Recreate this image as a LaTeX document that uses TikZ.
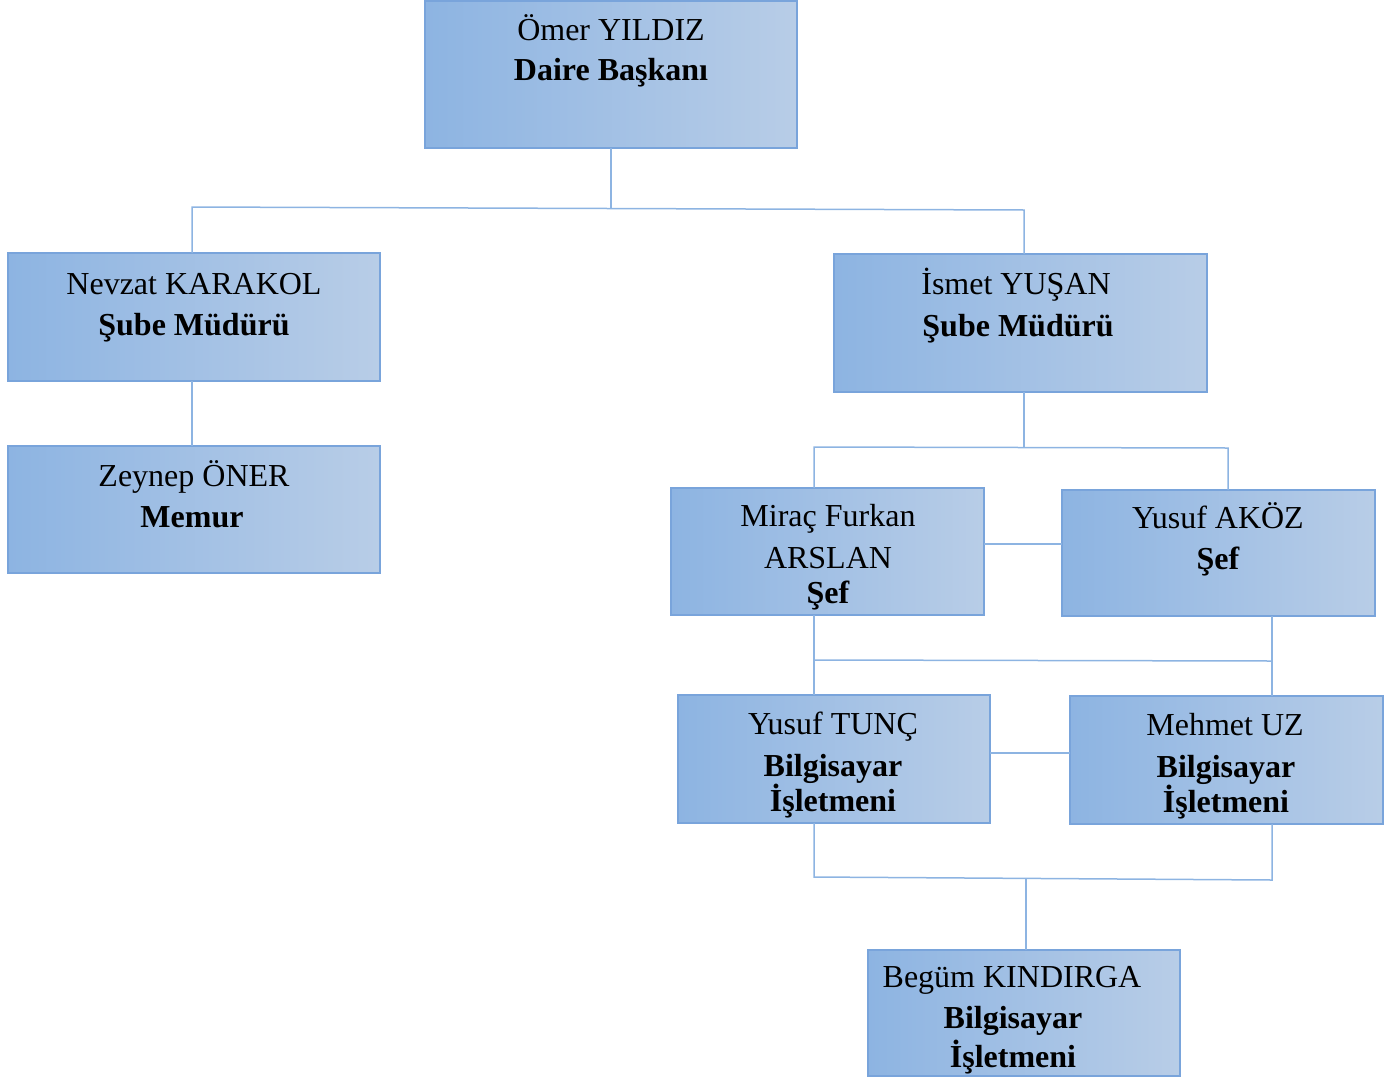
\documentclass[tikz,border=0pt]{standalone}
\usepackage{fontspec}
\setmainfont{Liberation Serif}
\usetikzlibrary{calc}
\definecolor{boxL}{RGB}{141,180,226}
\definecolor{boxR}{RGB}{184,205,231}
\definecolor{boxB}{RGB}{121,164,219}
\definecolor{lineC}{RGB}{141,180,226}
\tikzset{
  box/.style={rectangle, anchor=north west, inner sep=0pt, outer sep=0pt, draw=boxB, line width=1.5pt, left color=boxL, right color=boxR},
  txt/.style={anchor=base, inner sep=0pt, font=\fontsize{32}{38}\selectfont},
  conn/.style={draw=lineC, line width=1.5pt}
}
\begin{document}
\begin{tikzpicture}[x=1pt,y=-1pt]
\useasboundingbox (0,0) rectangle (1399,1079);
% boxes
\node[box, minimum width=372pt, minimum height=147pt] (omer) at (425,0.75) {};
\node[box, minimum width=372pt, minimum height=128pt] (nevzat) at (8,253) {};
\node[box, minimum width=372pt, minimum height=127pt] (zeynep) at (8,446) {};
\node[box, minimum width=373pt, minimum height=138pt] (ismet) at (834,254) {};
\node[box, minimum width=313pt, minimum height=127pt] (mirac) at (671,488) {};
\node[box, minimum width=313pt, minimum height=126pt] (akoz) at (1062,490) {};
\node[box, minimum width=312pt, minimum height=128pt] (tunc) at (678,695) {};
\node[box, minimum width=313pt, minimum height=128pt] (mehmet) at (1070,696) {};
\node[box, minimum width=312pt, minimum height=126pt] (begum) at (868,950) {};
% texts
\node[txt] (omer1) at (611,40) {Ömer YILDIZ};
\node[txt] (omer2) at (611,80) {\bfseries Daire Başkanı};
\node[txt] (nevzat1) at (194,294) {Nevzat KARAKOL};
\node[txt] (nevzat2) at (194,335) {\bfseries Şube Müdürü};
\node[txt] (zeynep1) at (194,486) {Zeynep ÖNER};
\node[txt] (zeynep2) at (192,527) {\bfseries Memur};
\node[txt] (ismet1) at (1016,294) {İsmet YUŞAN};
\node[txt] (ismet2) at (1018,336) {\bfseries Şube Müdürü};
\node[txt] (mirac1) at (828,526) {Miraç Furkan};
\node[txt] (mirac2) at (828,568) {ARSLAN};
\node[txt] (mirac3) at (828,603) {\bfseries Şef};
\node[txt] (akoz1) at (1218,528) {Yusuf AKÖZ};
\node[txt] (akoz2) at (1218,569) {\bfseries Şef};
\node[txt] (tunc1) at (833,734) {Yusuf TUNÇ};
\node[txt] (tunc2) at (833,776) {\bfseries Bilgisayar};
\node[txt] (tunc3) at (833,811) {\bfseries İşletmeni};
\node[txt] (mehmet1) at (1225,735) {Mehmet UZ};
\node[txt] (mehmet2) at (1226,777) {\bfseries Bilgisayar};
\node[txt] (mehmet3) at (1226,812) {\bfseries İşletmeni};
\node[txt] (begum1) at (1012,987) {Begüm KINDIRGA};
\node[txt] (begum2) at (1013,1028) {\bfseries Bilgisayar};
\node[txt] (begum3) at (1013,1067) {\bfseries İşletmeni};
% junction coordinates
\coordinate (j1) at (611,208);
\coordinate (n1) at (192,207);
\coordinate (i1) at (1024,210);
\coordinate (j2) at (1024,447);
\coordinate (m1) at (814,447);
\coordinate (a1) at (1228,448);
\coordinate (h1) at (0,544);
\coordinate (m2) at (814,660);
\coordinate (a2) at (1272,661);
\coordinate (h2) at (0,753);
\coordinate (m3) at (814,877);
\coordinate (a3) at (1272,880);
\coordinate (b3) at (1026,878);
% connectors
\draw[conn] (j1 |- omer.south) -- (j1);
\draw[conn] (n1 |- nevzat.north) -- (n1) -- (i1) -- (i1 |- ismet.north);
\draw[conn] (n1 |- nevzat.south) -- (n1 |- zeynep.north);
\draw[conn] (j2 |- ismet.south) -- (j2);
\draw[conn] (m1 |- mirac.north) -- (m1) -- (a1) -- (a1 |- akoz.north);
\draw[conn] (h1 -| mirac.east) -- (h1 -| akoz.west);
\draw[conn] (m2 |- mirac.south) -- (m2 |- tunc.north);
\draw[conn] (m2) -- (a2);
\draw[conn] (a2 |- akoz.south) -- (a2 |- mehmet.north);
\draw[conn] (h2 -| tunc.east) -- (h2 -| mehmet.west);
\draw[conn] (m3 |- tunc.south) -- (m3) -- (a3) -- (a3 |- mehmet.south);
\draw[conn] (b3) -- (b3 |- begum.north);
\end{tikzpicture}
\end{document}
